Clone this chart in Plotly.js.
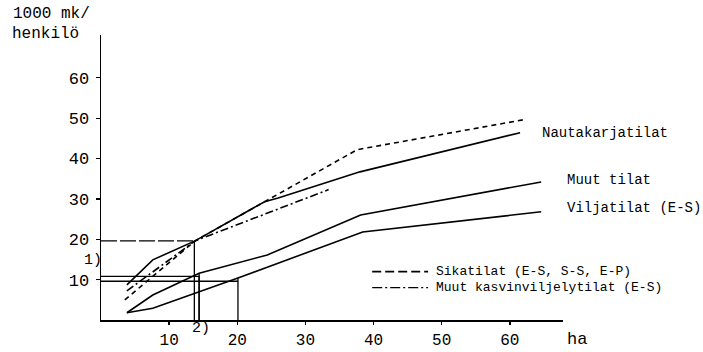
<!DOCTYPE html>
<html>
<head>
<meta charset="utf-8">
<script src="https://cdn.plot.ly/plotly-3.0.1.min.js"></script>
<style>html,body{margin:0;padding:0;background:#fff;}#chart{width:703px;height:352px;}</style>
</head>
<body>
<div id="chart"></div>
<script>
// Data (x = ha, y = 1000 mk / henkilö)
const nautaX = [3.8, 7.6, 13.8, 24, 26, 38, 61.5];
const nautaY = [8.7, 14.9, 19.6, 29.3, 30.2, 36.7, 46.4];
const sikaX = [3.5, 13.8, 37.6, 62];
const sikaY = [5, 19.6, 42.2, 49.6];
const kasviX = [3.8, 13.8, 33.4];
const kasviY = [7.2, 19.6, 32.3];
const muutX = [3.8, 7.6, 14.4, 24.4, 38.1, 64.6];
const muutY = [1.8, 6.2, 11.6, 16.1, 26, 34.2];
const viljaX = [3.8, 7.6, 20.1, 38.4, 64.6];
const viljaY = [1.8, 2.9, 10.4, 21.8, 26.8];
// reference (read-off) lines
const refAX = [0, 13.7, 13.7];
const refAY = [19.6, 19.6, 0];
const refBX = [0, 14.4, 14.4];
const refBY = [10.8, 10.8, 0];
const refBVX = [14.4, 14.4];
const refBVY = [11.6, 0];
const refCX = [0, 20.1];
const refCY = [9.6, 9.6];
const refCVX = [20.1, 20.1];
const refCVY = [10.4, 0];
const xTicks = [10, 20, 30, 40, 50, 60];
const yTicks = [10, 20, 30, 40, 50, 60];
const seriesLabels = ["Nautakarjatilat", "Muut tilat", "Viljatilat (E-S)"];
const legendLabels = ["Sikatilat (E-S, S-S, E-P)", "Muut kasvinviljelytilat (E-S)"];

const FONT = "Liberation Mono, Courier New, monospace";
const ln = (x, y, dash, w) => ({x, y, type: 'scatter', mode: 'lines', hoverinfo: 'skip',
  line: {color: '#000', width: w || 1.5, dash: dash || 'solid'}, cliponaxis: false});

const traces = [
  ln(refAX.slice(0, 2), refAY.slice(0, 2), '16px,3px', 1.3),
  ln(refAX.slice(1), refAY.slice(1), 'solid', 1.3),
  ln(refBX, refBY, 'solid', 1.3),
  ln(refBVX, refBVY, 'solid', 1.3),
  ln(refCX, refCY, 'solid', 1.3),
  ln(refCVX, refCVY, 'solid', 1.3),
  ln(nautaX, nautaY, 'solid', 1.6),
  ln(sikaX, sikaY, '5px,4px', 1.6),
  ln(kasviX, kasviY, '8px,3px,2px,3px', 1.6),
  ln(muutX, muutY, 'solid', 1.6),
  ln(viljaX, viljaY, 'solid', 1.6)
];

const annFont = {family: FONT, size: 14, color: '#000'};
const legFont = {family: FONT, size: 13, color: '#000'};
const layout = {
  width: 703, height: 352,
  margin: {l: 101, r: 140, t: 35, b: 32},
  paper_bgcolor: '#fff', plot_bgcolor: '#fff',
  showlegend: false,
  font: {family: FONT, color: '#000'},
  xaxis: {range: [0, 67.8], tickvals: xTicks, ticktext: xTicks.map(String),
    showgrid: false, zeroline: false, showline: true, linecolor: '#000', linewidth: 1.5,
    ticks: 'outside', ticklen: 3, tickwidth: 1.3, tickcolor: '#000',
    tickfont: {family: FONT, size: 16, color: '#000'}, ticklabelstandoff: 1},
  yaxis: {range: [0, 70.6], tickvals: yTicks, ticktext: yTicks.map(String),
    showgrid: false, zeroline: false, showline: true, linecolor: '#000', linewidth: 1.5,
    ticks: 'outside', ticklen: 4, tickwidth: 1.3, tickcolor: '#000',
    tickfont: {family: FONT, size: 17, color: '#000'}, ticklabelstandoff: 3},
  shapes: [
    {type: 'line', xref: 'paper', yref: 'paper', x0: 0.587, x1: 0.708, y0: 0.1695, y1: 0.1695,
     line: {color: '#000', width: 1.8, dash: '9px,4px'}},
    {type: 'line', xref: 'paper', yref: 'paper', x0: 0.587, x1: 0.708, y0: 0.1135, y1: 0.1135,
     line: {color: '#000', width: 1.3, dash: '10px,3px,2px,3px'}}
  ],
  annotations: [
    {xref: 'paper', yref: 'paper', x: -0.195, y: 1.074, xanchor: 'left', yanchor: 'middle',
     text: '1000 mk/', showarrow: false, font: {family: FONT, size: 16, color: '#000'}},
    {xref: 'paper', yref: 'paper', x: -0.197, y: 1.003, xanchor: 'left', yanchor: 'middle',
     text: 'henkilö', showarrow: false, font: {family: FONT, size: 16, color: '#000'}},
    {xref: 'paper', yref: 'paper', x: 0.95, y: 0.657, xanchor: 'left', yanchor: 'middle',
     text: seriesLabels[0], showarrow: false, font: annFont},
    {xref: 'paper', yref: 'paper', x: 1.004, y: 0.492, xanchor: 'left', yanchor: 'middle',
     text: seriesLabels[1], showarrow: false, font: annFont},
    {xref: 'paper', yref: 'paper', x: 1.004, y: 0.394, xanchor: 'left', yanchor: 'middle',
     text: seriesLabels[2], showarrow: false, font: annFont},
    {xref: 'paper', yref: 'paper', x: 0.723, y: 0.1695, xanchor: 'left', yanchor: 'middle',
     text: legendLabels[0], showarrow: false, font: legFont, borderpad: 0},
    {xref: 'paper', yref: 'paper', x: 0.723, y: 0.1135, xanchor: 'left', yanchor: 'middle',
     text: legendLabels[1], showarrow: false, font: legFont, borderpad: 0},
    {xref: 'paper', yref: 'paper', x: -0.017, y: 0.208, xanchor: 'center', yanchor: 'middle',
     text: '1)', showarrow: false, font: {family: FONT, size: 15, color: '#000'}},
    {xref: 'paper', yref: 'paper', x: 0.216, y: -0.03, xanchor: 'center', yanchor: 'middle',
     text: '2)', showarrow: false, font: {family: FONT, size: 15, color: '#000'}},
    {xref: 'paper', yref: 'paper', x: 1.03, y: -0.07, xanchor: 'center', yanchor: 'middle',
     text: 'ha', showarrow: false, font: {family: FONT, size: 17, color: '#000'}}
  ]
};

Plotly.newPlot('chart', traces, layout, {staticPlot: true, displayModeBar: false});
</script>
</body>
</html>
